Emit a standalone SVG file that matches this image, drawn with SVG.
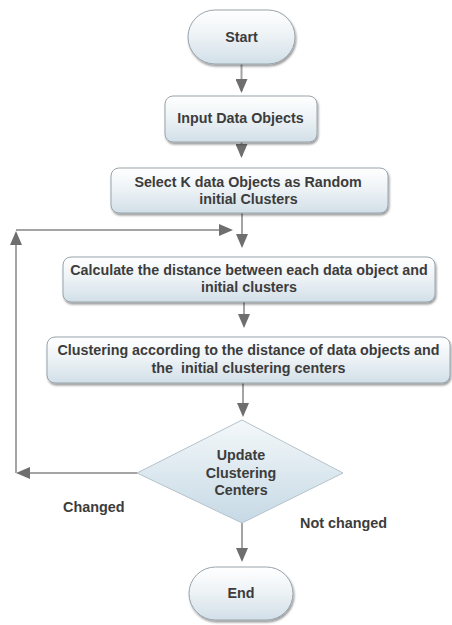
<svg xmlns="http://www.w3.org/2000/svg" width="452" height="625" viewBox="0 0 452 625">
  <style>
    .box { fill: url(#boxFill); stroke: #98a4ac; stroke-width: 1; filter: url(#shadow); }
    .dia { fill: url(#diaFill); stroke: #b4c2cb; stroke-width: 1; }
    .lbl { font-family: "Liberation Sans", Arial, sans-serif; font-weight: bold; font-size: 14.3px; fill: #3c3c3c; text-anchor: middle; }
    .note { font-family: "Liberation Sans", Arial, sans-serif; font-weight: bold; font-size: 14.4px; fill: #3c3c3c; }
    .wire { fill: none; stroke: #a4a4a4; stroke-width: 2; marker-end: url(#head); }
  </style>
  <defs>
    <linearGradient id="boxFill" x1="0" y1="0" x2="0" y2="1">
      <stop offset="0" stop-color="#ffffff"/>
      <stop offset="0.45" stop-color="#eef3f6"/>
      <stop offset="1" stop-color="#d2dfe8"/>
    </linearGradient>
    <linearGradient id="diaFill" x1="0" y1="0" x2="0" y2="1">
      <stop offset="0" stop-color="#f4f8fa"/>
      <stop offset="1" stop-color="#c6d9e5"/>
    </linearGradient>
    <filter id="shadow" x="-10%" y="-20%" width="120%" height="150%">
      <feDropShadow dx="1" dy="2" stdDeviation="1.3" flood-color="#000" flood-opacity="0.4"/>
    </filter>
    <marker id="head" viewBox="0 0 14 12" refX="12" refY="6" markerWidth="14" markerHeight="12" markerUnits="userSpaceOnUse" orient="auto">
      <path d="M0,0 L14,6 L0,12 z" fill="#6e6e6e"/>
    </marker>
  </defs>

  <!-- connectors -->
  <g id="connectors">
    <path class="wire" d="M241.5,64 V91"/>
    <path class="wire" d="M241.5,142 V156"/>
    <path class="wire" d="M242,213 V246"/>
    <path class="wire" d="M244,302 V326"/>
    <path class="wire" d="M243,383 V415"/>
    <path class="wire" d="M242,523 V560"/>
    <!-- loop back from the decision -->
    <path class="wire" d="M137,473 H18"/>
    <path class="wire" d="M16,473 V233"/>
    <path class="wire" d="M16,230 H231"/>
  </g>

  <g id="start">
    <rect class="box" x="188" y="10" width="107" height="54" rx="27"/>
    <text class="lbl" x="241.5" y="42">Start</text>
  </g>

  <g id="input">
    <rect class="box" x="165" y="96" width="152" height="46" rx="8"/>
    <text class="lbl" x="240.5" y="123">Input Data Objects</text>
  </g>

  <g id="select">
    <rect class="box" x="111" y="168" width="277" height="45" rx="8"/>
    <text class="lbl" x="248" y="187">Select K data Objects as Random</text>
    <text class="lbl" x="248.5" y="204">initial Clusters</text>
  </g>

  <g id="calculate">
    <rect class="box" x="63" y="257" width="372" height="45" rx="8"/>
    <text class="lbl" x="249" y="275">Calculate the distance between each data object and</text>
    <text class="lbl" x="249" y="292">initial clusters</text>
  </g>

  <g id="clustering">
    <rect class="box" x="47" y="337" width="403" height="46" rx="8"/>
    <text class="lbl" x="248.5" y="355">Clustering according to the distance of data objects and</text>
    <text class="lbl" x="248.5" y="373" xml:space="preserve">the  initial clustering centers</text>
  </g>

  <g id="update">
    <polygon class="dia" points="242,420 343,473 242,523 137,473"/>
    <text class="lbl" x="241" y="460">Update</text>
    <text class="lbl" x="241" y="478">Clustering</text>
    <text class="lbl" x="241" y="495">Centers</text>
  </g>

  <g id="end">
    <rect class="box" x="189" y="567" width="104" height="53" rx="26.5"/>
    <text class="lbl" x="241" y="598">End</text>
  </g>

  <g id="labels">
    <text class="note" x="63" y="512">Changed</text>
    <text class="note" x="300" y="528">Not changed</text>
  </g>
</svg>
